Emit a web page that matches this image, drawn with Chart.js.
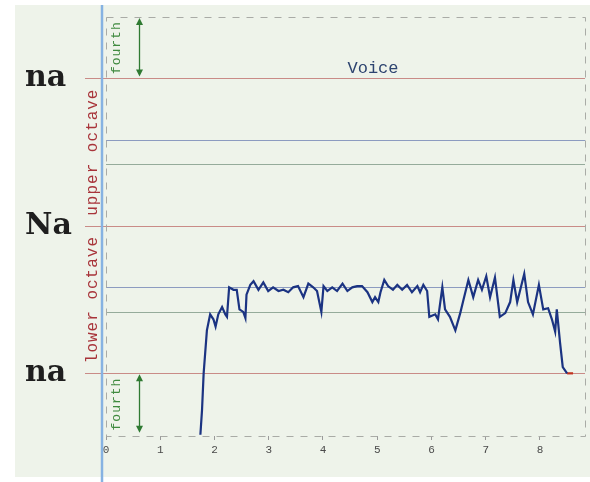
<!DOCTYPE html>
<html>
<head>
<meta charset="utf-8">
<script src="https://cdn.jsdelivr.net/npm/chart.js@4/dist/chart.umd.min.js"></script>
<style>
html,body{margin:0;padding:0;background:#fff;}
canvas{display:block;}
</style>
</head>
<body>
<canvas id="c" width="590" height="482"></canvas>
<script>
// time in seconds
const timeSec = [1.74,1.77,1.80,1.86,1.92,1.98,2.02,2.07,2.14,2.20,2.23,2.27,2.35,2.41,2.46,2.53,2.57,2.59,2.66,2.72,2.81,2.90,2.99,3.08,3.18,3.27,3.36,3.45,3.54,3.64,3.73,3.82,3.89,3.97,4.01,4.08,4.17,4.26,4.36,4.45,4.54,4.63,4.72,4.82,4.91,4.96,5.02,5.06,5.13,5.20,5.29,5.37,5.46,5.55,5.64,5.74,5.79,5.85,5.92,5.96,6.07,6.12,6.20,6.25,6.34,6.44,6.53,6.58,6.68,6.77,6.86,6.93,7.01,7.08,7.17,7.26,7.36,7.45,7.51,7.58,7.71,7.78,7.87,7.98,8.06,8.15,8.22,8.28,8.31,8.37,8.42,8.50];
// pitch in semitones above lower "na"
const pitchSemi = [-5.0,-3.0,0.0,3.5,4.8,4.4,3.8,4.8,5.4,4.8,4.6,7.0,6.8,6.8,5.2,5.0,4.5,6.4,7.2,7.5,6.8,7.4,6.7,7.0,6.7,6.8,6.6,7.0,7.1,6.2,7.3,7.0,6.7,5.0,7.1,6.7,7.0,6.7,7.3,6.7,7.0,7.1,7.1,6.6,5.8,6.2,5.8,6.6,7.6,7.1,6.8,7.2,6.8,7.2,6.6,7.1,6.6,7.2,6.7,4.6,4.8,4.4,7.0,5.2,4.6,3.5,4.9,5.8,7.6,6.2,7.6,6.8,7.9,6.2,7.8,4.6,4.9,5.8,7.6,5.8,8.1,5.8,4.8,7.2,5.2,5.3,4.4,3.4,5.2,2.5,0.5,0.0];
// trailing held note
const tailSec = [8.50, 8.61];
const tailSemi = [0, 0];
// x tick labels
const xTicks = [0,1,2,3,4,5,6,7,8];
// reference lines (semitones) and their kinds
const refLevels = [0, 5, 7, 12, 17, 19, 24];
const refKinds  = ['sa','ma','pa','sa','ma','pa','sa'];
// swara labels on the left
const swaraLabels = ['na','Na','na'];
const swaraLevels = [24, 12, 0];

const refColors = {sa:'#c98b87', ma:'#95ab9b', pa:'#8c9bc0'};

const decor = {
  id:'decor',
  beforeDraw(chart){
    const ctx = chart.ctx;
    ctx.save();
    ctx.fillStyle = '#ffffff';
    ctx.fillRect(0,0,chart.width,chart.height);
    ctx.fillStyle = '#eef3ea';
    ctx.fillRect(15,5,chart.width-15,472);
    ctx.restore();
  },
  beforeDatasetsDraw(chart){
    const ctx = chart.ctx, a = chart.chartArea;
    const ys = chart.scales.y;
    ctx.save();
    // reference lines
    refLevels.forEach((v,i)=>{
      const y = Math.round(ys.getPixelForValue(v)) + 0.5;
      const k = refKinds[i];
      ctx.strokeStyle = refColors[k];
      ctx.lineWidth = 1.2;
      ctx.beginPath();
      ctx.moveTo(k==='sa' ? 85 : a.left, y);
      ctx.lineTo(a.right, y);
      ctx.stroke();
    });
    // dashed frame
    ctx.strokeStyle = '#a9aba6';
    ctx.lineWidth = 1;
    ctx.setLineDash([7,7]);
    ctx.strokeRect(Math.round(a.left)+0.5, Math.round(a.top)+0.5, Math.round(a.right-a.left), Math.round(a.bottom-a.top));
    ctx.setLineDash([]);
    // blue vertical line
    ctx.strokeStyle = '#86b2e2';
    ctx.lineWidth = 2.5;
    ctx.beginPath();
    ctx.moveTo(102, 5);
    ctx.lineTo(102, 482);
    ctx.stroke();
    // swara labels
    ctx.fillStyle = '#1e1e1e';
    ctx.font = 'bold 30px "DejaVu Serif"';
    ctx.textAlign = 'left';
    ctx.textBaseline = 'alphabetic';
    swaraLabels.forEach((t,i)=>{
      const y = ys.getPixelForValue(swaraLevels[i]);
      ctx.fillText(t, 25, y + 8);
    });
    // octave labels
    ctx.fillStyle = '#a8343a';
    ctx.font = '16px "Liberation Mono"';
    ctx.textAlign = 'center';
    ctx.textBaseline = 'middle';
    try { ctx.letterSpacing = '1px'; } catch(e){}
    [['upper octave',18],['lower octave',6]].forEach(([t,v])=>{
      ctx.save();
      ctx.translate(93, ys.getPixelForValue(v));
      ctx.rotate(-Math.PI/2);
      ctx.fillText(t,0,0);
      ctx.restore();
    });
    // fourth labels and arrows
    ctx.fillStyle = '#3f8a3f';
    ctx.font = '13px "Liberation Mono"';
    [[26.5],[-2.5]].forEach(([v])=>{
      ctx.save();
      ctx.translate(117, ys.getPixelForValue(v));
      ctx.rotate(-Math.PI/2);
      ctx.fillText('fourth',0,0);
      ctx.restore();
    });
    try { ctx.letterSpacing = '0px'; } catch(e){}
    ctx.strokeStyle = '#2f7a32';
    ctx.fillStyle = '#2f7a32';
    ctx.lineWidth = 1.3;
    [[29,24],[0,-5]].forEach(([hi,lo])=>{
      const y1 = ys.getPixelForValue(hi)+1, y2 = ys.getPixelForValue(lo)-2;
      const x = 139.5;
      ctx.beginPath(); ctx.moveTo(x,y1+3); ctx.lineTo(x,y2-3); ctx.stroke();
      ctx.beginPath(); ctx.moveTo(x,y1); ctx.lineTo(x-3.5,y1+7); ctx.lineTo(x+3.5,y1+7); ctx.closePath(); ctx.fill();
      ctx.beginPath(); ctx.moveTo(x,y2); ctx.lineTo(x-3.5,y2-7); ctx.lineTo(x+3.5,y2-7); ctx.closePath(); ctx.fill();
    });
    // title
    ctx.fillStyle = '#2d4470';
    ctx.font = '17px "Liberation Mono"';
    ctx.textAlign = 'center';
    ctx.textBaseline = 'alphabetic';
    ctx.fillText('Voice', 373, 73);
    ctx.restore();
  }
};

new Chart(document.getElementById('c'), {
  type:'line',
  data:{
    datasets:[
      {
        label:'Voice',
        data: timeSec.map((x,i)=>({x, y:pitchSemi[i]})),
        borderColor:'#1b3382',
        borderWidth:2.2,
        pointRadius:0,
        tension:0,
        fill:false
      },
      {
        label:'tail',
        data: tailSec.map((x,i)=>({x, y:tailSemi[i]})),
        borderColor:'#c2321e',
        borderWidth:2.2,
        pointRadius:0,
        tension:0,
        fill:false
      }
    ]
  },
  options:{
    responsive:false,
    animation:false,
    layout:{padding:{left:106, right:5, top:17, bottom:16}},
    plugins:{legend:{display:false}, tooltip:{enabled:false}, title:{display:false}},
    scales:{
      x:{
        type:'linear', min:0, max:8.83,
        afterFit(s){ s.height = 30; },
        afterBuildTicks(s){ s.ticks = xTicks.map(v=>({value:v})); },
        grid:{display:true, drawOnChartArea:false, drawTicks:true, tickLength:4, color:'#9a9a9a'},
        border:{display:false},
        ticks:{color:'#4a4a4a', font:{family:'"Liberation Mono"', size:11}, padding:3, maxRotation:0, autoSkip:false}
      },
      y:{
        type:'linear', min:-5.1, max:29, display:false
      }
    }
  },
  plugins:[decor]
});
</script>
</body>
</html>
